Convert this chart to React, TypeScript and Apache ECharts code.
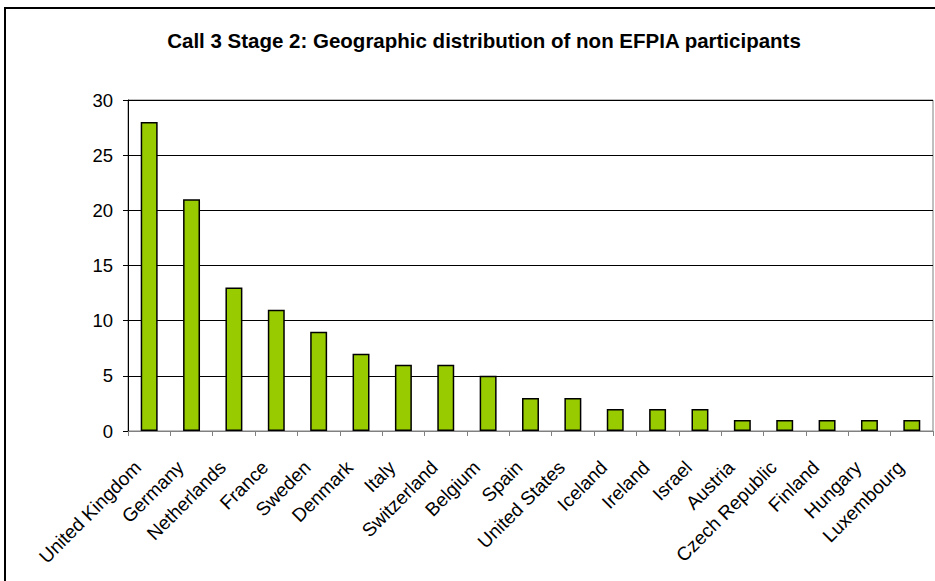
import React, { useEffect, useRef } from "react";
import * as echarts from "echarts";

const categories = [
  "United Kingdom", "Germany", "Netherlands", "France", "Sweden", "Denmark",
  "Italy", "Switzerland", "Belgium", "Spain", "United States", "Iceland",
  "Ireland", "Israel", "Austria", "Czech Republic", "Finland", "Hungary", "Luxembourg",
];
const participants = [28, 21, 13, 11, 9, 7, 6, 6, 5, 3, 3, 2, 2, 2, 1, 1, 1, 1, 1];
const yTicks = { min: 0, max: 30, interval: 5 };
const titleText = "Call 3 Stage 2: Geographic distribution of non EFPIA participants";

export default function App() {
  const ref = useRef<HTMLDivElement>(null);
  useEffect(() => {
    document.body.style.margin = "0";
    const chart = echarts.init(ref.current!, null, { renderer: "svg" });
    chart.setOption({
      animation: false,
      backgroundColor: "#ffffff",
      textStyle: { fontFamily: "Liberation Sans, Arial, sans-serif" },
      title: {
        text: titleText,
        left: 479,
        top: 25,
        textAlign: "center",
        textStyle: { fontSize: 20.5, fontWeight: "bold", color: "#000", fontFamily: "Liberation Sans, Arial, sans-serif" },
      },
      graphic: [
        {
          type: "rect",
          shape: { x: 5, y: 8, width: 960, height: 620 },
          style: { fill: "none", stroke: "#000", lineWidth: 2 },
          silent: true,
          z: 100,
        },
      ],
      grid: {
        left: 128,
        top: 100,
        right: 2,
        bottom: 150,
        show: true,
        borderColor: "#808080",
        borderWidth: 1,
      },
      xAxis: {
        type: "category",
        data: categories,
        axisLine: { lineStyle: { color: "#808080", width: 1 } },
        axisTick: { show: true, length: 5, interval: 0, lineStyle: { color: "#808080" } },
        axisLabel: {
          interval: 0,
          rotate: 45,
          fontSize: 19,
          color: "#000",
          margin: 22,
          padding: [0, 16, 0, 0],
          fontFamily: "Liberation Sans, Arial, sans-serif",
        },
      },
      yAxis: {
        type: "value",
        min: yTicks.min,
        max: yTicks.max,
        interval: yTicks.interval,
        axisLine: { show: true, lineStyle: { color: "#000", width: 1 } },
        axisTick: { show: true, length: 5, lineStyle: { color: "#000" } },
        axisLabel: { fontSize: 18.5, color: "#000", margin: 15, fontFamily: "Liberation Sans, Arial, sans-serif" },
        splitLine: { show: true, lineStyle: { color: "#000", width: 1 } },
      },
      series: [
        {
          type: "bar",
          data: participants,
          barWidth: "40%",
          itemStyle: { color: "#99CC00", borderColor: "#000", borderWidth: 1.5 },
        },
      ],
    });
    return () => chart.dispose();
  }, []);
  return (
    <div
      ref={ref}
      style={{ position: "absolute", left: 0, top: 0, width: 935, height: 581 }}
    />
  );
}
